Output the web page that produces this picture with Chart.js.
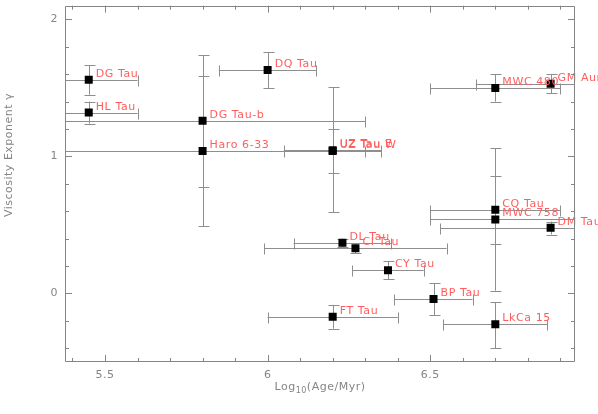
<!DOCTYPE html>
<html>
<head>
<meta charset="utf-8">
<script src="https://cdn.jsdelivr.net/npm/chart.js@4/dist/chart.umd.min.js"></script>
<style>
html,body{margin:0;padding:0;background:#fff;}
#wrap{width:598px;height:414px;position:relative;}
</style>
</head>
<body>
<div id="wrap"><canvas id="c"></canvas></div>
<script>
// ---- data ----
const names = ['DG Tau','HL Tau','DQ Tau','DG Tau-b','Haro 6-33','UZ Tau E','UZ Tau W','MWC 480','GM Aur','CQ Tau','MWC 758','DM Tau','DL Tau','CI Tau','CY Tau','BP Tau','FT Tau','LkCa 15'];
const logAge   = [5.45, 5.45, 6.00, 5.80, 5.80, 6.20, 6.20, 6.70, 6.87, 6.70, 6.70, 6.87, 6.23, 6.27, 6.37, 6.51, 6.20, 6.70];
const ageErrLo = [0.15, 0.15, 0.15, 0.50, 0.50, 0.15, 0.15, 0.20, 0.23, 0.20, 0.20, 0.34, 0.15, 0.28, 0.11, 0.12, 0.20, 0.16];
const ageErrHi = [0.15, 0.15, 0.15, 0.50, 0.50, 0.15, 0.15, 0.20, 0.23, 0.20, 0.30, 0.34, 0.15, 0.28, 0.11, 0.12, 0.20, 0.16];
const gamma      = [1.56, 1.32, 1.63, 1.26, 1.04, 1.045, 1.04, 1.50, 1.53, 0.61, 0.54, 0.48, 0.37, 0.33, 0.17, -0.04, -0.17, -0.225];
const gammaErrHi = [0.105,0.08, 0.13, 0.48, 0.55, 0.46, 0.16, 0.10, 0.068,0.45, 0.32, 0.045,0.03, 0.035,0.065,0.117,0.087,0.16];
const gammaErrLo = [0.11, 0.08, 0.13, 0.48, 0.55, 0.45, 0.16, 0.10, 0.068,0.25, 0.52, 0.05, 0.03, 0.035,0.065,0.117,0.087,0.175];
const xTickLabels = ['5.5','6','6.5'];
const yTickLabels = ['0','1','2'];
const xMinorStep = 0.1, yMinorStep = 0.2;

const FONT = '11px "DejaVu Sans"';
const GREY = '#858585';
const LABEL = '#ff5e5e';

const ebPlugin = {
  id: 'eb',
  beforeDatasetsDraw(chart) {
    const {ctx, chartArea: a, scales: {x, y}} = chart;
    const s = v => Math.round(v) + 0.5;
    ctx.save();
    ctx.beginPath();
    ctx.rect(a.left, a.top, a.right - a.left, a.bottom - a.top);
    ctx.clip();
    ctx.strokeStyle = '#8e8e8e';
    ctx.lineWidth = 1;
    ctx.beginPath();
    for (let i = 0; i < names.length; i++) {
      const px = x.getPixelForValue(logAge[i]);
      const py = y.getPixelForValue(gamma[i]);
      const x1 = x.getPixelForValue(logAge[i] - ageErrLo[i]);
      const x2 = x.getPixelForValue(logAge[i] + ageErrHi[i]);
      const y1 = y.getPixelForValue(gamma[i] + gammaErrHi[i]);
      const y2 = y.getPixelForValue(gamma[i] - gammaErrLo[i]);
      const c = 5;
      ctx.moveTo(x1, s(py)); ctx.lineTo(x2, s(py));
      ctx.moveTo(s(x1), s(py) - c); ctx.lineTo(s(x1), s(py) + c + 1);
      ctx.moveTo(s(x2), s(py) - c); ctx.lineTo(s(x2), s(py) + c + 1);
      ctx.moveTo(s(px), y1); ctx.lineTo(s(px), y2);
      ctx.moveTo(s(px) - c, s(y1)); ctx.lineTo(s(px) + c + 1, s(y1));
      ctx.moveTo(s(px) - c, s(y2)); ctx.lineTo(s(px) + c + 1, s(y2));
    }
    ctx.stroke();
    ctx.restore();
  },
  afterDatasetsDraw(chart) {
    const {ctx, scales: {x, y}} = chart;
    ctx.save();
    ctx.font = FONT;
    ctx.fillStyle = LABEL;
    ctx.textAlign = 'left';
    ctx.textBaseline = 'alphabetic';
    try { ctx.letterSpacing = '0.6px'; } catch (e) {}
    for (let i = 0; i < names.length; i++) {
      const px = x.getPixelForValue(logAge[i]);
      const py = y.getPixelForValue(gamma[i]);
      ctx.fillText(names[i], px + 7, py - 3);
    }
    ctx.restore();
  },
  afterDraw(chart) {
    const {ctx, chartArea: a, scales: {x, y}} = chart;
    const s = v => Math.round(v) + 0.5;
    ctx.save();
    ctx.strokeStyle = GREY;
    ctx.lineWidth = 1;
    ctx.beginPath();
    ctx.rect(s(a.left), s(a.top), Math.round(a.right - a.left) - 1, Math.round(a.bottom - a.top) - 1);
    // x ticks
    const eps = 1e-6;
    const xStart = Math.ceil((x.min + eps) / xMinorStep) * xMinorStep;
    for (let v = xStart; v <= x.max + eps; v += xMinorStep) {
      const vv = Math.round(v * 10) / 10;
      const major = Math.abs(vv * 2 - Math.round(vv * 2)) < 1e-6;
      const L = major ? 7 : 4;
      const p = s(x.getPixelForValue(vv));
      ctx.moveTo(p, a.bottom); ctx.lineTo(p, a.bottom - L);
      ctx.moveTo(p, a.top); ctx.lineTo(p, a.top + L);
    }
    const yStart = Math.ceil((y.min + eps) / yMinorStep) * yMinorStep;
    for (let v = yStart; v <= y.max + eps; v += yMinorStep) {
      const vv = Math.round(v * 10) / 10;
      const major = Math.abs(vv - Math.round(vv)) < 1e-6;
      const L = major ? 7 : 4;
      const p = s(y.getPixelForValue(vv));
      ctx.moveTo(a.left, p); ctx.lineTo(a.left + L, p);
      ctx.moveTo(a.right, p); ctx.lineTo(a.right - L, p);
    }
    ctx.stroke();

    // tick labels
    ctx.font = FONT;
    ctx.fillStyle = GREY;
    try { ctx.letterSpacing = '0.5px'; } catch (e) {}
    ctx.textAlign = 'center';
    ctx.textBaseline = 'top';
    xTickLabels.forEach(t => {
      ctx.fillText(t, x.getPixelForValue(parseFloat(t)), a.bottom + 8);
    });
    ctx.textAlign = 'right';
    ctx.textBaseline = 'middle';
    yTickLabels.forEach(t => {
      ctx.fillText(t, a.left - 7, y.getPixelForValue(parseFloat(t)));
    });

    // x title with subscript
    ctx.textAlign = 'left';
    ctx.textBaseline = 'alphabetic';
    const p1 = 'Log', sub = '10', p2 = '(Age/Myr)';
    ctx.font = FONT;
    const w1 = ctx.measureText(p1).width, w3 = ctx.measureText(p2).width;
    ctx.font = '8px "DejaVu Sans"';
    const w2 = ctx.measureText(sub).width;
    const cx = (a.left + a.right) / 2;
    let sx = cx - (w1 + w2 + w3) / 2;
    const by = 390;
    ctx.font = FONT; ctx.fillText(p1, sx, by); sx += w1;
    ctx.font = '8px "DejaVu Sans"'; ctx.fillText(sub, sx, by + 3); sx += w2;
    ctx.font = FONT; ctx.fillText(p2, sx, by);

    // y title
    ctx.save();
    ctx.translate(12, 155);
    ctx.rotate(-Math.PI / 2);
    ctx.textAlign = 'center';
    ctx.textBaseline = 'alphabetic';
    ctx.font = FONT;
    ctx.fillText('Viscosity Exponent \u03b3', 0, 0);
    ctx.restore();
    ctx.restore();
  }
};

new Chart(document.getElementById('c'), {
  type: 'scatter',
  data: {
    datasets: [{
      label: 'gamma',
      data: logAge.map((v, i) => ({x: v, y: gamma[i]})),
      pointStyle: 'rect',
      pointRadius: 5.66,
      pointHoverRadius: 5.66,
      backgroundColor: '#000',
      borderWidth: 0
    }]
  },
  options: {
    responsive: true,
    maintainAspectRatio: false,
    animation: false,
    events: [],
    layout: {padding: {left: 65, right: 23, top: 0, bottom: 52}},
    plugins: {legend: {display: false}, tooltip: {enabled: false}},
    scales: {
      x: {type: 'linear', min: 5.377, max: 6.945, display: false},
      y: {type: 'linear', min: -0.5, max: 2.1, display: false}
    }
  },
  plugins: [ebPlugin]
});
</script>
</body>
</html>
